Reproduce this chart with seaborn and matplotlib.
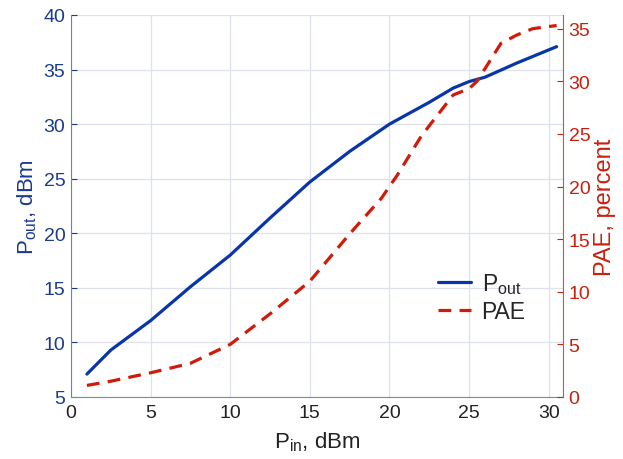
import matplotlib
matplotlib.use('Agg')
import matplotlib.pyplot as plt
import seaborn as sns
import pandas as pd

sns.set_style('white')
plt.rcParams['font.family'] = ['Liberation Sans', 'DejaVu Sans']
plt.rcParams['mathtext.fontset'] = 'custom'
plt.rcParams['mathtext.rm'] = 'Liberation Sans'
plt.rcParams['mathtext.it'] = 'Liberation Sans'

# 读图得到的数据
pin_out = [1, 2.5, 5, 7.5, 10, 12.5, 15, 17.5, 20, 22.5, 24, 25, 26, 28, 30.5]
pout = [7.1, 9.3, 12.0, 15.1, 18.0, 21.4, 24.7, 27.5, 30.0, 32.0, 33.3, 33.9, 34.3, 35.6, 37.1]

pin_pae = [1, 2.5, 5, 7.5, 10, 12.5, 15, 17.5, 19.5, 20.5, 22, 24, 25, 25.5, 27, 28, 29, 30.5]
pae = [1.1, 1.5, 2.3, 3.2, 5.0, 7.9, 11.0, 15.5, 18.9, 21.1, 24.8, 28.7, 29.3, 30.0, 33.6, 34.4, 35.0, 35.3]

blue = '#0a35a8'
red = '#d01a0a'
blue_txt = '#1a3a8c'
red_txt = '#c8200e'

df_out = pd.DataFrame({'pin': pin_out, 'val': pout})
df_pae = pd.DataFrame({'pin': pin_pae, 'val': pae})

fig = plt.figure(figsize=(6.23, 4.6), dpi=100)
ax = fig.add_axes([71 / 623, 1 - 398 / 460, (563 - 71) / 623, (398 - 16) / 460])
ax2 = ax.twinx()

sns.lineplot(data=df_out, x='pin', y='val', ax=ax, color=blue, lw=2.3, label='P$_\\mathrm{out}$', legend=False)
sns.lineplot(data=df_pae, x='pin', y='val', ax=ax2, color=red, lw=2.3, ls=(0, (4, 2.6)), label='PAE', legend=False)

ax.set_xlim(0, 30.9)
ax.set_ylim(5, 40)
ax2.set_ylim(0, 36.3)
ax.set_xticks(range(0, 31, 5))
ax.set_yticks(range(5, 41, 5))
ax2.set_yticks(range(0, 36, 5))

ax.grid(True, color='#dce1ea', lw=0.9)
ax.set_axisbelow(True)

ax.tick_params(axis='x', direction='in', labelsize=14, colors='#222222', length=4, pad=5)
ax.tick_params(axis='y', direction='in', labelsize=14, colors=blue_txt, length=4, pad=4)
ax2.tick_params(axis='y', direction='in', labelsize=14, colors=red_txt, length=4, pad=4)

ax.spines['top'].set_visible(False)
ax2.spines['top'].set_visible(False)
ax.spines['left'].set_color('#6a82b8')
ax.spines['bottom'].set_color('#888888')
ax2.spines['right'].set_color('#b8603a')
ax2.spines['left'].set_visible(False)
ax2.spines['bottom'].set_visible(False)
ax.spines['right'].set_visible(False)

ax.set_xlabel('P$_\\mathrm{in}$, dBm', fontsize=16, color='#222222', labelpad=6)
ax.set_ylabel('P$_\\mathrm{out}$, dBm', fontsize=16, color=blue_txt, labelpad=3)
ax2.set_ylabel('PAE, percent', fontsize=17, color=red_txt, labelpad=3)

h1, l1 = ax.get_legend_handles_labels()
h2, l2 = ax2.get_legend_handles_labels()
ax2.legend(h1 + h2, l1 + l2, loc='center', bbox_to_anchor=(0.835, 0.262), frameon=False,
           fontsize=16.5, handlelength=1.45, handletextpad=0.45, labelspacing=0.15)

fig.savefig('out.png', dpi=100)
